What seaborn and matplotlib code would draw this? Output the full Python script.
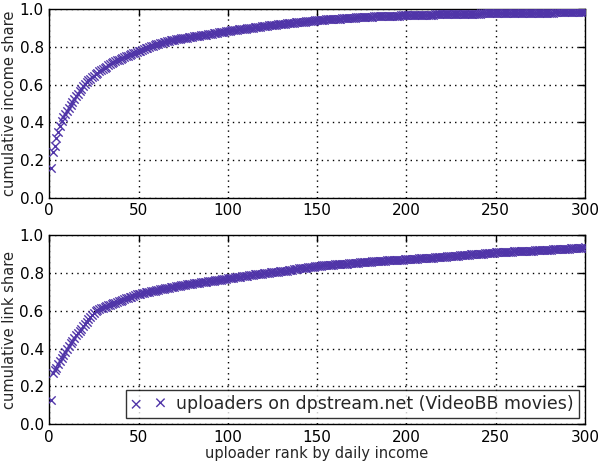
import matplotlib
matplotlib.use("Agg")
import matplotlib.pyplot as plt
import seaborn as sns

sns.set_style("white")
plt.rcParams["font.family"] = ["DejaVu Sans"]

# uploader rank 1..300
ranks = list(range(1, 301))

# cumulative share of daily income
income_share = [
    0.157, 0.245, 0.277, 0.315, 0.350, 0.380, 0.407, 0.430, 0.445, 0.460,
    0.476, 0.492, 0.508, 0.523, 0.538, 0.552, 0.566, 0.579, 0.592, 0.604,
    0.614, 0.623, 0.632, 0.640, 0.648, 0.656, 0.664, 0.671, 0.678, 0.685,
    0.691, 0.697, 0.703, 0.709, 0.714, 0.719, 0.724, 0.729, 0.734, 0.739,
    0.743, 0.747, 0.751, 0.755, 0.759, 0.763, 0.767, 0.771, 0.774, 0.777,
    0.782, 0.786, 0.790, 0.794, 0.798, 0.802, 0.805, 0.808, 0.812, 0.815,
    0.818, 0.821, 0.824, 0.827, 0.829, 0.831, 0.834, 0.836, 0.838, 0.840,
    0.841, 0.843, 0.844, 0.846, 0.847, 0.849, 0.851, 0.852, 0.854, 0.855,
    0.857, 0.858, 0.860, 0.861, 0.863, 0.864, 0.866, 0.867, 0.869, 0.870,
    0.872, 0.873, 0.875, 0.876, 0.878, 0.879, 0.881, 0.882, 0.884, 0.886,
    0.887, 0.889, 0.890, 0.891, 0.892, 0.894, 0.895, 0.896, 0.898, 0.899,
    0.900, 0.901, 0.903, 0.904, 0.905, 0.906, 0.908, 0.909, 0.910, 0.911,
    0.913, 0.914, 0.915, 0.916, 0.918, 0.919, 0.920, 0.921, 0.922, 0.923,
    0.924, 0.925, 0.926, 0.927, 0.928, 0.929, 0.930, 0.931, 0.932, 0.933,
    0.934, 0.935, 0.936, 0.937, 0.938, 0.939, 0.940, 0.941, 0.942, 0.943,
    0.944, 0.945, 0.945, 0.946, 0.947, 0.948, 0.948, 0.949, 0.950, 0.950,
    0.951, 0.952, 0.952, 0.953, 0.954, 0.954, 0.955, 0.955, 0.956, 0.957,
    0.957, 0.958, 0.958, 0.959, 0.959, 0.960, 0.960, 0.961, 0.961, 0.962,
    0.962, 0.963, 0.963, 0.964, 0.964, 0.965, 0.965, 0.965, 0.966, 0.966,
    0.967, 0.967, 0.967, 0.968, 0.968, 0.968, 0.969, 0.969, 0.969, 0.970,
    0.970, 0.970, 0.971, 0.971, 0.971, 0.971, 0.972, 0.972, 0.972, 0.972,
    0.973, 0.973, 0.973, 0.973, 0.973, 0.974, 0.974, 0.974, 0.974, 0.975,
    0.975, 0.975, 0.975, 0.975, 0.976, 0.976, 0.976, 0.976, 0.976, 0.977,
    0.977, 0.977, 0.977, 0.977, 0.977, 0.978, 0.978, 0.978, 0.978, 0.978,
    0.978, 0.979, 0.979, 0.979, 0.979, 0.979, 0.979, 0.980, 0.980, 0.980,
    0.980, 0.980, 0.980, 0.981, 0.981, 0.981, 0.981, 0.981, 0.981, 0.981,
    0.982, 0.982, 0.982, 0.982, 0.982, 0.982, 0.982, 0.983, 0.983, 0.983,
    0.983, 0.983, 0.983, 0.983, 0.984, 0.984, 0.984, 0.984, 0.984, 0.984,
    0.984, 0.984, 0.985, 0.985, 0.985, 0.985, 0.985, 0.985, 0.985, 0.985,
    0.986, 0.986, 0.986, 0.986, 0.986, 0.986, 0.986, 0.986, 0.987, 0.987,
]

# cumulative share of links
link_share = [
    0.130, 0.270, 0.285, 0.300, 0.320, 0.335, 0.350, 0.365, 0.382, 0.400,
    0.414, 0.428, 0.442, 0.456, 0.470, 0.482, 0.494, 0.506, 0.518, 0.530,
    0.543, 0.556, 0.568, 0.580, 0.590, 0.597, 0.603, 0.608, 0.613, 0.617,
    0.621, 0.625, 0.629, 0.633, 0.637, 0.641, 0.644, 0.648, 0.651, 0.655,
    0.659, 0.662, 0.666, 0.669, 0.673, 0.676, 0.680, 0.683, 0.687, 0.690,
    0.692, 0.694, 0.696, 0.698, 0.700, 0.702, 0.704, 0.706, 0.708, 0.710,
    0.712, 0.714, 0.716, 0.718, 0.720, 0.722, 0.724, 0.726, 0.728, 0.729,
    0.731, 0.732, 0.734, 0.735, 0.737, 0.738, 0.740, 0.741, 0.743, 0.744,
    0.746, 0.747, 0.748, 0.750, 0.751, 0.752, 0.754, 0.755, 0.756, 0.758,
    0.759, 0.760, 0.762, 0.763, 0.764, 0.766, 0.767, 0.768, 0.770, 0.772,
    0.773, 0.775, 0.776, 0.778, 0.779, 0.780, 0.782, 0.783, 0.785, 0.786,
    0.787, 0.789, 0.790, 0.791, 0.793, 0.794, 0.795, 0.797, 0.798, 0.799,
    0.800, 0.801, 0.803, 0.804, 0.805, 0.806, 0.807, 0.808, 0.809, 0.810,
    0.811, 0.813, 0.814, 0.816, 0.817, 0.819, 0.820, 0.822, 0.823, 0.825,
    0.826, 0.827, 0.829, 0.830, 0.831, 0.833, 0.834, 0.835, 0.837, 0.838,
    0.839, 0.840, 0.841, 0.841, 0.842, 0.843, 0.844, 0.845, 0.845, 0.846,
    0.847, 0.848, 0.848, 0.849, 0.850, 0.851, 0.851, 0.852, 0.853, 0.854,
    0.854, 0.855, 0.856, 0.857, 0.857, 0.858, 0.859, 0.860, 0.860, 0.861,
    0.862, 0.863, 0.863, 0.864, 0.865, 0.866, 0.866, 0.867, 0.868, 0.868,
    0.869, 0.869, 0.870, 0.870, 0.871, 0.871, 0.872, 0.872, 0.873, 0.873,
    0.874, 0.875, 0.875, 0.876, 0.877, 0.877, 0.878, 0.879, 0.879, 0.880,
    0.881, 0.881, 0.882, 0.883, 0.883, 0.884, 0.885, 0.885, 0.886, 0.887,
    0.887, 0.888, 0.889, 0.890, 0.890, 0.891, 0.892, 0.893, 0.893, 0.894,
    0.895, 0.896, 0.896, 0.897, 0.898, 0.899, 0.899, 0.900, 0.901, 0.902,
    0.902, 0.903, 0.904, 0.905, 0.905, 0.906, 0.907, 0.908, 0.909, 0.910,
    0.910, 0.911, 0.911, 0.912, 0.912, 0.913, 0.913, 0.914, 0.914, 0.915,
    0.915, 0.916, 0.916, 0.917, 0.917, 0.918, 0.918, 0.919, 0.919, 0.920,
    0.920, 0.921, 0.921, 0.922, 0.922, 0.923, 0.923, 0.924, 0.924, 0.925,
    0.925, 0.926, 0.926, 0.927, 0.927, 0.928, 0.928, 0.929, 0.929, 0.930,
    0.930, 0.931, 0.931, 0.932, 0.933, 0.933, 0.934, 0.935, 0.936, 0.937,
]

xticks = [0, 50, 100, 150, 200, 250, 300]
yticks = [0.0, 0.2, 0.4, 0.6, 0.8, 1.0]
series_label = "uploaders on dpstream.net (VideoBB movies)"
mark_color = "#5035a8"

fig = plt.figure(figsize=(6, 4.63), dpi=100)
ax_top = fig.add_axes([0.082, 0.573, 0.893, 0.4065])
ax_bot = fig.add_axes([0.082, 0.084, 0.893, 0.4075])


def style_axes(ax, ylabel, xlabel=None):
    ax.set_xlim(0, 300)
    ax.set_ylim(0, 1.0)
    ax.set_xticks(xticks)
    ax.set_yticks(yticks)
    ax.set_yticklabels([f"{t:.1f}" for t in yticks])
    ax.tick_params(direction="in", length=5, width=1, labelsize=11,
                   top=True, right=True, colors="black", pad=4)
    ax.set_axisbelow(False)
    ax.xaxis.grid(True, linestyle=(0, (1, 3)), color="black", linewidth=1)
    ax.yaxis.grid(True, linestyle=(0, (1, 3)), color="black", linewidth=1)
    for side in ax.spines.values():
        side.set_color("black")
        side.set_linewidth(1)
    ax.set_ylabel(ylabel, fontsize=10.5, labelpad=2)
    if xlabel:
        ax.set_xlabel(xlabel, fontsize=10.5, labelpad=1)
    else:
        ax.set_xlabel("")


sns.scatterplot(x=ranks, y=income_share, marker="x", color=mark_color,
                s=36, linewidth=1.0, ax=ax_top, zorder=3)
style_axes(ax_top, "cumulative income share")

sns.scatterplot(x=ranks, y=link_share, marker="x", color=mark_color,
                s=36, linewidth=1.0, ax=ax_bot, zorder=3, label=series_label)
style_axes(ax_bot, "cumulative link share", "uploader rank by daily income")

leg = ax_bot.legend(loc="lower right", scatterpoints=2, fontsize=12.5,
                    fancybox=False, frameon=True, borderaxespad=0.35,
                    handletextpad=0.6, borderpad=0.3)
leg.get_frame().set_edgecolor("black")
leg.get_frame().set_linewidth(1)

fig.savefig("out.png", dpi=100)
plt.close(fig)
